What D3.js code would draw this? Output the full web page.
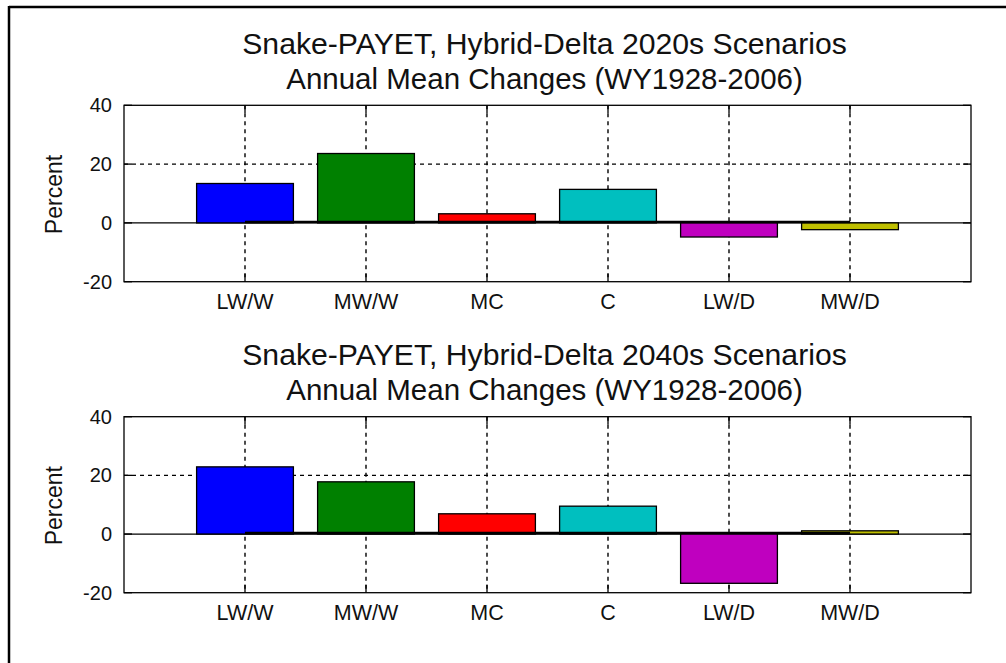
<!DOCTYPE html>
<html>
<head>
<meta charset="utf-8">
<script src="https://cdn.jsdelivr.net/npm/d3@7"></script>
<style>
  html, body { margin: 0; padding: 0; background: #fff; }
  svg { display: block; }
  text { font-family: "Liberation Sans", Arial, sans-serif; fill: #111; }
</style>
</head>
<body>
<svg id="chart" width="1006" height="663"></svg>
<script>
// ---- data ----
const categories = ["LW/W", "MW/W", "MC", "C", "LW/D", "MW/D"];
const barColors = ["#0000ff", "#008000", "#ff0000", "#00bfbf", "#bf00bf", "#bfbf00"];
const values2020s = [13.4, 23.6, 3.1, 11.4, -4.8, -2.3];
const values2040s = [22.9, 17.8, 6.9, 9.5, -16.8, 1.1];
const yTicks = [-20, 0, 20, 40];
const titles2020s = ["Snake-PAYET, Hybrid-Delta 2020s Scenarios", "Annual Mean Changes (WY1928-2006)"];
const titles2040s = ["Snake-PAYET, Hybrid-Delta 2040s Scenarios", "Annual Mean Changes (WY1928-2006)"];
const yLabel = "Percent";

const svg = d3.select("#chart");

// outer frame (top and left edges visible)
svg.append("line").attr("x1", 9).attr("x2", 1006).attr("y1", 7).attr("y2", 7)
  .attr("stroke", "#000").attr("stroke-width", 2.5);
svg.append("line").attr("x1", 9).attr("x2", 9).attr("y1", 6).attr("y2", 663)
  .attr("stroke", "#000").attr("stroke-width", 2.5);

function panel(values, titles, top, bottom, titleY) {
  const left = 124, right = 971;
  const x = d3.scaleLinear().domain([0, categories.length + 1]).range([left, right]);
  const y = d3.scaleLinear().domain([-20, 40]).range([bottom, top]);
  const g = svg.append("g");
  const step = x(1) - x(0);
  const bw = step * 0.8;
  const dash = "4,4";

  // grid
  categories.forEach((c, i) => {
    g.append("line").attr("x1", x(i + 1)).attr("x2", x(i + 1))
      .attr("y1", y(40)).attr("y2", y(-20))
      .attr("stroke", "#000").attr("stroke-width", 1.4).attr("stroke-dasharray", dash);
  });
  yTicks.filter(t => t !== -20 && t !== 40 && t !== 0).forEach(t => {
    g.append("line").attr("x1", left).attr("x2", right)
      .attr("y1", y(t)).attr("y2", y(t))
      .attr("stroke", "#000").attr("stroke-width", 1.4).attr("stroke-dasharray", dash);
  });

  // baseline
  g.append("line").attr("x1", left).attr("x2", right)
    .attr("y1", y(0)).attr("y2", y(0)).attr("stroke", "#000").attr("stroke-width", 1.2);

  // bars
  g.selectAll("rect.bar").data(values).enter().append("rect")
    .attr("class", "bar")
    .attr("x", (d, i) => x(i + 1) - bw / 2)
    .attr("width", bw)
    .attr("y", d => y(Math.max(0, d)))
    .attr("height", d => Math.abs(y(d) - y(0)))
    .attr("fill", (d, i) => barColors[i])
    .attr("stroke", "#000").attr("stroke-width", 1.3);

  // thick zero segment between first and last category
  g.append("line").attr("x1", x(1)).attr("x2", x(categories.length))
    .attr("y1", y(0) - 1).attr("y2", y(0) - 1)
    .attr("stroke", "#000").attr("stroke-width", 2.5);

  // axes box
  g.append("rect").attr("x", left).attr("y", top)
    .attr("width", right - left).attr("height", bottom - top)
    .attr("fill", "none").attr("stroke", "#000").attr("stroke-width", 1.3);

  // x ticks (inside, top and bottom)
  const tl = 8;
  categories.forEach((c, i) => {
    g.append("line").attr("x1", x(i + 1)).attr("x2", x(i + 1))
      .attr("y1", bottom).attr("y2", bottom - tl).attr("stroke", "#000").attr("stroke-width", 1.3);
    g.append("line").attr("x1", x(i + 1)).attr("x2", x(i + 1))
      .attr("y1", top).attr("y2", top + tl).attr("stroke", "#000").attr("stroke-width", 1.3);
  });
  // y ticks (inside, left and right)
  yTicks.forEach(t => {
    g.append("line").attr("x1", left).attr("x2", left + tl)
      .attr("y1", y(t)).attr("y2", y(t)).attr("stroke", "#000").attr("stroke-width", 1.3);
    g.append("line").attr("x1", right).attr("x2", right - tl)
      .attr("y1", y(t)).attr("y2", y(t)).attr("stroke", "#000").attr("stroke-width", 1.3);
  });

  // tick labels
  yTicks.forEach(t => {
    g.append("text").attr("x", left - 12).attr("y", y(t) + 7)
      .attr("text-anchor", "end").attr("font-size", 20).text(t);
  });
  categories.forEach((c, i) => {
    g.append("text").attr("x", x(i + 1)).attr("y", bottom + 27)
      .attr("text-anchor", "middle").attr("font-size", 21.5).text(c);
  });

  // y label
  const cy = (top + bottom) / 2 + 1;
  g.append("text").attr("transform", `translate(61.5,${cy}) rotate(-90)`)
    .attr("text-anchor", "middle").attr("font-size", 23).text(yLabel);

  // titles
  const cx = (left + right) / 2 - 3;
  titles.forEach((t, i) => {
    g.append("text").attr("x", cx).attr("y", titleY + i * 35)
      .attr("text-anchor", "middle").attr("font-size", i === 0 ? 30.2 : 29.5).text(t);
  });
}

panel(values2020s, titles2020s, 105.3, 281.7, 53.5);
panel(values2040s, titles2040s, 416.7, 592.7, 365);
</script>
</body>
</html>
